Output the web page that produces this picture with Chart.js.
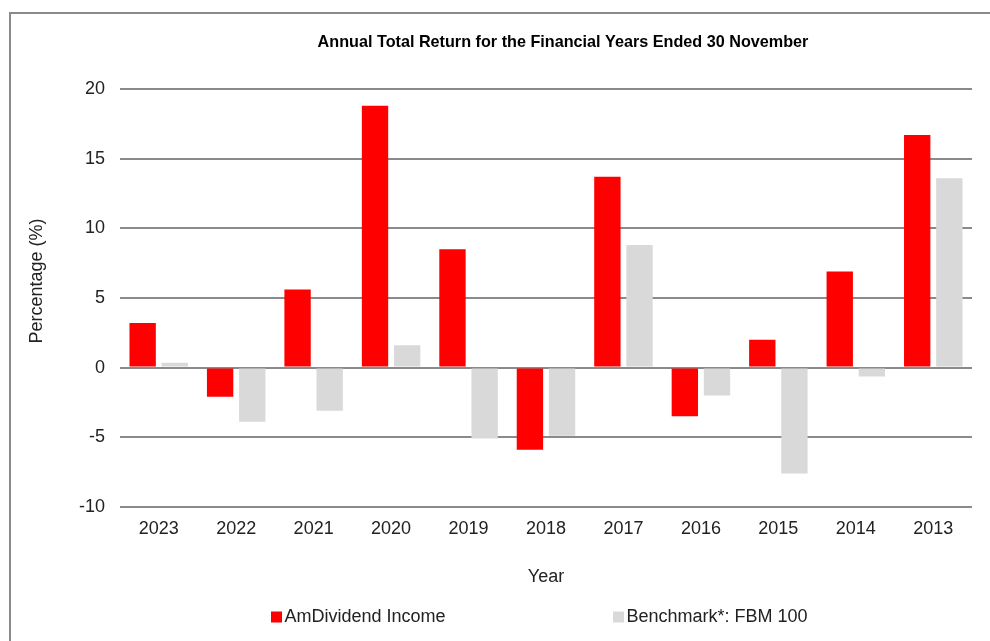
<!DOCTYPE html>
<html>
<head>
<meta charset="utf-8">
<script src="https://cdn.jsdelivr.net/npm/chart.js@4.4.1/dist/chart.umd.min.js"></script>
<style>
  html, body { margin: 0; padding: 0; background: #fff; overflow: hidden; }
  #frame {
    position: absolute; left: 9px; top: 12px; width: 1200px; height: 900px;
    border-left: 2px solid #8a8a8a; border-top: 2px solid #8a8a8a;
  }
  #wrap { position: absolute; left: 0; top: 0; width: 990px; height: 641px; }
</style>
</head>
<body>
<div id="frame"></div>
<div id="wrap"><canvas id="grafico"></canvas></div>
<script>
const anos = ['2023', '2022', '2021', '2020', '2019', '2018', '2017', '2016', '2015', '2014', '2013'];
const fundo = [3.2, -2.1, 5.6, 18.8, 8.5, -5.9, 13.7, -3.5, 2.0, 6.9, 16.7];
const benchmark = [0.35, -3.9, -3.1, 1.6, -5.1, -4.9, 8.8, -2.0, -7.6, -0.65, 13.6];
const nomes = ['AmDividend Income', 'Benchmark*: FBM 100'];
const cores = ['#ff0000', '#d9d9d9'];
const titulo = 'Annual Total Return for the Financial Years Ended 30 November';
const tituloY = 'Percentage (%)';

const corTexto = '#222222';
const fonte = "'Liberation Sans', Arial, sans-serif";

// title, y title and legend drawn by hand so they sit where the original has them
const extras = {
    id: 'extras',
    afterDraw(chart) {
        const ctx = chart.ctx;
        ctx.save();
        ctx.fillStyle = '#000';
        ctx.font = "bold 16.2px 'Liberation Sans Narrow', 'Liberation Sans', Arial, sans-serif";
        ctx.textAlign = 'center';
        ctx.textBaseline = 'middle';
        ctx.fillText(titulo, 563, 43);

        ctx.font = '18px ' + fonte;
        ctx.fillStyle = corTexto;
        ctx.save();
        ctx.translate(37, 281);
        ctx.rotate(-Math.PI / 2);
        ctx.fillText(tituloY, 0, 0);
        ctx.restore();

        const posX = [271, 613];
        ctx.textAlign = 'left';
        chart.data.datasets.forEach((ds, i) => {
            ctx.fillStyle = ds.backgroundColor;
            ctx.fillRect(posX[i], 611.5, 11, 11);
            ctx.fillStyle = corTexto;
            ctx.fillText(ds.label, posX[i] + 13.5, 617.5);
        });
        ctx.restore();
    }
};

new Chart(document.getElementById('grafico'), {
    type: 'bar',
    data: {
        labels: anos,
        datasets: [
            { label: nomes[0], data: fundo, backgroundColor: cores[0], categoryPercentage: 0.83, barPercentage: 0.82 },
            { label: nomes[1], data: benchmark, backgroundColor: cores[1], categoryPercentage: 0.83, barPercentage: 0.82 }
        ]
    },
    plugins: [extras],
    options: {
        responsive: true,
        maintainAspectRatio: false,
        animation: false,
        layout: { padding: { top: 89, left: 26, right: 18, bottom: 53 } },
        plugins: {
            legend: { display: false },
            title: { display: false },
            tooltip: { enabled: false }
        },
        scales: {
            x: {
                grid: { display: false, drawTicks: false },
                border: { display: false },
                ticks: { color: corTexto, font: { size: 18, family: fonte }, padding: 11, maxRotation: 0 },
                title: {
                    display: true,
                    text: 'Year',
                    color: corTexto,
                    font: { size: 18, family: fonte },
                    padding: { top: 16, bottom: 0 }
                }
            },
            y: {
                min: -10,
                max: 20,
                afterFit: (scale) => { scale.width = 94; },
                grid: { color: '#8a8a8a', lineWidth: 2, drawTicks: false },
                border: { display: false },
                ticks: { stepSize: 5, color: corTexto, font: { size: 18, family: fonte }, padding: 15 },
                title: { display: false }
            }
        }
    }
});
</script>
</body>
</html>
